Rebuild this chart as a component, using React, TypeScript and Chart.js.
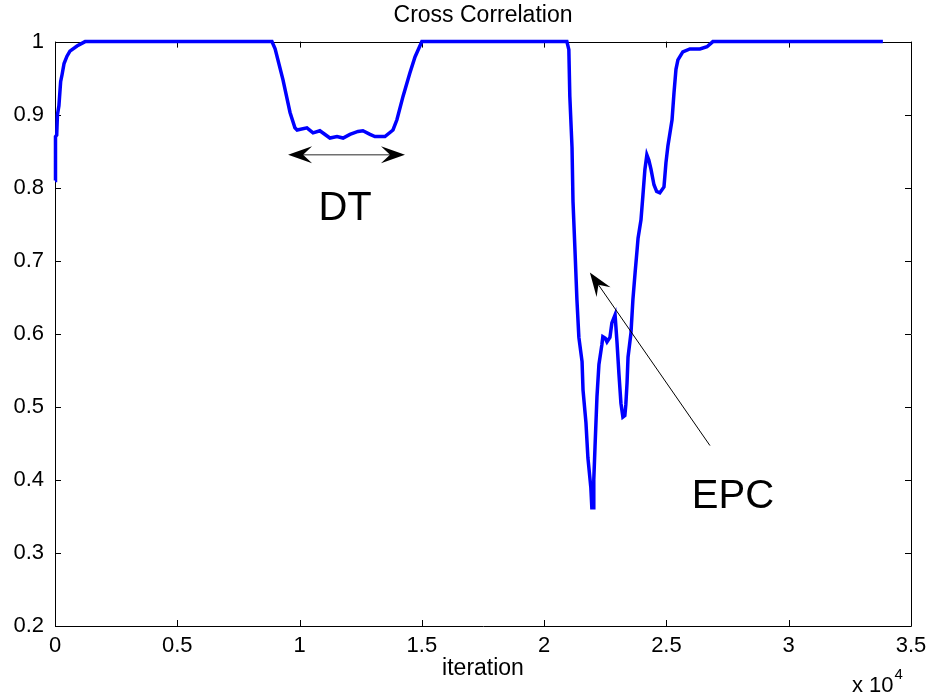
import { useEffect, useRef } from 'react';
import { Chart, registerables } from 'chart.js';

Chart.register(...registerables);

// iteration count, in units of 10^4
const iterations = [
  0, 0.002, 0.007, 0.010, 0.016, 0.023, 0.029, 0.037, 0.049, 0.061, 0.090, 0.123,
  0.887, 0.900, 0.932, 0.961, 0.981, 0.990, 1.030, 1.055, 1.083, 1.124, 1.153, 1.178,
  1.206, 1.239, 1.259, 1.288, 1.308, 1.349, 1.382, 1.398, 1.423, 1.451, 1.472, 1.500,
  2.093, 2.101, 2.105, 2.114, 2.118, 2.126, 2.134, 2.142, 2.155, 2.159, 2.171, 2.179,
  2.191, 2.195, 2.200, 2.203, 2.208, 2.216, 2.224, 2.236, 2.240, 2.250, 2.257, 2.269,
  2.277, 2.290, 2.298, 2.306, 2.314, 2.322, 2.330, 2.334, 2.339, 2.343, 2.355, 2.363,
  2.372, 2.380, 2.384, 2.396, 2.404, 2.412, 2.420, 2.428, 2.437, 2.449, 2.460, 2.473,
  2.490, 2.498, 2.506, 2.523, 2.531, 2.539, 2.547, 2.567, 2.596, 2.637, 2.666, 2.690,
  3.385,
];

// normalised cross-correlation at each iteration
const crossCorr = [
  0.810, 0.870, 0.872, 0.900, 0.912, 0.945, 0.955, 0.970, 0.980, 0.987, 0.994, 1.000,
  1.000, 0.990, 0.948, 0.903, 0.882, 0.879, 0.882, 0.875, 0.878, 0.868, 0.870, 0.868,
  0.873, 0.877, 0.878, 0.873, 0.870, 0.870, 0.879, 0.893, 0.925, 0.957, 0.979, 1.000,
  1.000, 0.989, 0.925, 0.855, 0.781, 0.715, 0.647, 0.595, 0.562, 0.523, 0.478, 0.430,
  0.389, 0.362, 0.362, 0.400, 0.445, 0.514, 0.558, 0.585, 0.596, 0.594, 0.589, 0.595,
  0.615, 0.626, 0.588, 0.544, 0.505, 0.486, 0.488, 0.503, 0.533, 0.568, 0.601, 0.647,
  0.684, 0.715, 0.731, 0.756, 0.790, 0.825, 0.845, 0.838, 0.825, 0.804, 0.795, 0.793,
  0.801, 0.834, 0.857, 0.893, 0.930, 0.962, 0.975, 0.986, 0.990, 0.990, 0.993, 1.000,
  1.000,
];

const xTickValues = [0, 0.5, 1, 1.5, 2, 2.5, 3, 3.5];
const xTickLabels = ['0', '0.5', '1', '1.5', '2', '2.5', '3', '3.5'];
const yTickValues = [0.2, 0.3, 0.4, 0.5, 0.6, 0.7, 0.8, 0.9, 1];
const yTickLabels = ['0.2', '0.3', '0.4', '0.5', '0.6', '0.7', '0.8', '0.9', '1'];

// annotation anchors in data coordinates
const dtArrow = { x0: 0.953, x1: 1.431, y: 0.845 };
const dtLabel = { text: 'DT', x: 1.186, y: 0.756 };
const epcArrow = { x0: 2.678, y0: 0.447, x1: 2.187, y1: 0.684 };
const epcLabel = { text: 'EPC', x: 2.772, y: 0.362 };

const FONT = "'Liberation Sans', Arial, Helvetica, sans-serif";
const TICK_LEN = 6;

function arrowHead(ctx: CanvasRenderingContext2D, tipX: number, tipY: number, angle: number, len: number, halfW: number, notch: number) {
  ctx.save();
  ctx.translate(tipX, tipY);
  ctx.rotate(angle);
  ctx.beginPath();
  ctx.moveTo(0, 0);
  ctx.lineTo(-len, -halfW);
  ctx.lineTo(-notch, 0);
  ctx.lineTo(-len, halfW);
  ctx.closePath();
  ctx.fillStyle = '#000';
  ctx.fill();
  ctx.restore();
}

const boxAxes = {
  id: 'boxAxes',
  beforeDatasetsDraw(chart: any) {
    const { ctx, chartArea: a, scales } = chart;
    const xs = scales.x;
    const ys = scales.y;
    ctx.save();
    ctx.strokeStyle = '#000';
    ctx.lineWidth = 1;
    ctx.beginPath();
    ctx.rect(Math.round(a.left) + 0.5, Math.round(a.top) + 0.5, Math.round(a.right - a.left), Math.round(a.bottom - a.top));
    for (const t of xs.ticks) {
      const px = Math.round(xs.getPixelForValue(t.value)) + 0.5;
      ctx.moveTo(px, a.bottom);
      ctx.lineTo(px, a.bottom - TICK_LEN);
      ctx.moveTo(px, a.top);
      ctx.lineTo(px, a.top + TICK_LEN);
    }
    for (const t of ys.ticks) {
      const py = Math.round(ys.getPixelForValue(t.value)) + 0.5;
      ctx.moveTo(a.left, py);
      ctx.lineTo(a.left + TICK_LEN, py);
      ctx.moveTo(a.right, py);
      ctx.lineTo(a.right - TICK_LEN, py);
    }
    ctx.stroke();
    ctx.restore();
  },
  afterDatasetsDraw(chart: any) {
    const { ctx, chartArea: a, scales } = chart;
    const xs = scales.x;
    const ys = scales.y;
    ctx.save();

    // DT double-headed arrow
    const dx0 = xs.getPixelForValue(dtArrow.x0);
    const dx1 = xs.getPixelForValue(dtArrow.x1);
    const dy = ys.getPixelForValue(dtArrow.y);
    ctx.strokeStyle = '#707070';
    ctx.lineWidth = 1.5;
    ctx.beginPath();
    ctx.moveTo(dx0 + 10, dy);
    ctx.lineTo(dx1 - 10, dy);
    ctx.stroke();
    arrowHead(ctx, dx0, dy, Math.PI, 24, 8.5, 15);
    arrowHead(ctx, dx1, dy, 0, 24, 8.5, 15);

    // EPC arrow
    const ex0 = xs.getPixelForValue(epcArrow.x0);
    const ey0 = ys.getPixelForValue(epcArrow.y0);
    const ex1 = xs.getPixelForValue(epcArrow.x1);
    const ey1 = ys.getPixelForValue(epcArrow.y1);
    const ang = Math.atan2(ey1 - ey0, ex1 - ex0);
    ctx.strokeStyle = '#000';
    ctx.lineWidth = 1;
    ctx.beginPath();
    ctx.moveTo(ex0, ey0);
    ctx.lineTo(ex1 - Math.cos(ang) * 10, ey1 - Math.sin(ang) * 10);
    ctx.stroke();
    arrowHead(ctx, ex1, ey1, ang, 24, 8.5, 15);

    // annotation labels
    ctx.fillStyle = '#000';
    ctx.font = `40px ${FONT}`;
    ctx.textAlign = 'center';
    ctx.textBaseline = 'alphabetic';
    ctx.fillText(dtLabel.text, xs.getPixelForValue(dtLabel.x), ys.getPixelForValue(dtLabel.y));
    ctx.fillText(epcLabel.text, xs.getPixelForValue(epcLabel.x), ys.getPixelForValue(epcLabel.y));

    // x-axis exponent
    ctx.textAlign = 'left';
    ctx.font = `22px ${FONT}`;
    const ex = a.right - 59;
    const eb = a.bottom + 66;
    ctx.fillText('x 10', ex, eb);
    const w = ctx.measureText('x 10').width;
    ctx.font = `15px ${FONT}`;
    ctx.fillText('4', ex + w + 1, eb - 13);
    ctx.restore();
  },
};

export default function App() {
  const canvasRef = useRef<HTMLCanvasElement | null>(null);

  useEffect(() => {
    const canvas = canvasRef.current;
    if (!canvas) return;
    const points = iterations.map((x, i) => ({ x, y: crossCorr[i] }));
    const chart = new Chart(canvas, {
      type: 'line',
      data: {
        datasets: [
          {
            data: points,
            borderColor: '#0000ff',
            borderWidth: 3.5,
            pointRadius: 0,
            tension: 0,
            fill: false,
            clip: false,
          } as any,
        ],
      },
      options: {
        animation: false,
        responsive: true,
        maintainAspectRatio: false,
        layout: { padding: { top: 0, right: 23, bottom: 0, left: 0 } },
        plugins: {
          legend: { display: false },
          tooltip: { enabled: false },
          title: {
            display: true,
            text: 'Cross Correlation',
            fullSize: false,
            color: '#000',
            font: { family: FONT, size: 23, weight: 'normal' },
            padding: { top: 2, bottom: 12 },
          },
        },
        scales: {
          x: {
            type: 'linear',
            min: 0,
            max: 3.5,
            grid: { display: false, drawTicks: false },
            border: { display: false },
            afterBuildTicks: (scale: any) => {
              scale.ticks = xTickValues.map((value) => ({ value }));
            },
            afterFit: (scale: any) => {
              scale.height = 73;
            },
            ticks: {
              color: '#000',
              padding: 7,
              maxRotation: 0,
              autoSkip: false,
              font: { family: FONT, size: 22 },
              callback: (_v: any, i: number) => xTickLabels[i],
            },
            title: {
              display: true,
              text: 'iteration',
              color: '#000',
              font: { family: FONT, size: 23 },
              padding: { top: 0, bottom: 17 },
            },
          },
          y: {
            type: 'linear',
            min: 0.2,
            max: 1,
            grid: { display: false, drawTicks: false },
            border: { display: false },
            afterBuildTicks: (scale: any) => {
              scale.ticks = yTickValues.map((value) => ({ value }));
            },
            afterFit: (scale: any) => {
              scale.width = 55;
            },
            ticks: {
              color: '#000',
              padding: 11,
              autoSkip: false,
              font: { family: FONT, size: 22 },
              callback: (_v: any, i: number) => yTickLabels[i],
            },
          },
        },
      } as any,
      plugins: [boxAxes],
    });
    return () => chart.destroy();
  }, []);

  return (
    <div style={{ position: 'fixed', left: 0, top: 0, width: 934, height: 699, background: '#fff' }}>
      <canvas ref={canvasRef} />
    </div>
  );
}
